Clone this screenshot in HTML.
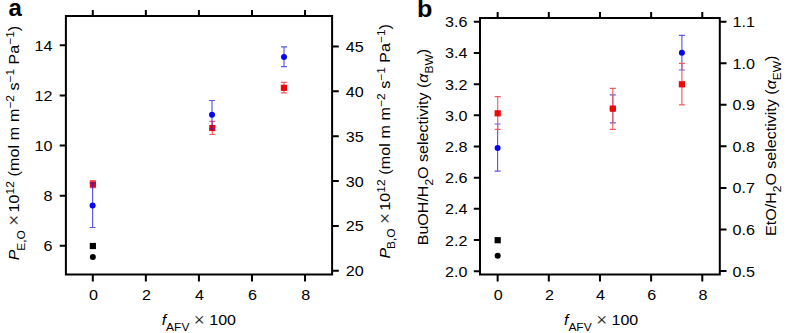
<!DOCTYPE html>
<html><head><meta charset="utf-8"><style>
html,body{margin:0;padding:0;background:#fff;width:786px;height:333px;overflow:hidden}
svg{display:block}
text{font-family:"Liberation Sans",sans-serif;fill:#000}
</style></head><body>
<svg width="786" height="333" viewBox="0 0 786 333">
<path d="M65.9,16.1H332.1V274.4H65.9Z" fill="none" stroke="#000" stroke-width="2" stroke-linejoin="miter" stroke-linecap="square"/>
<path d="M92.80,16.1v-6.2M92.80,274.4v7.0M145.86,16.1v-6.2M145.86,274.4v7.0M198.92,16.1v-6.2M198.92,274.4v7.0M251.98,16.1v-6.2M251.98,274.4v7.0M305.04,16.1v-6.2M305.04,274.4v7.0" stroke="#000" stroke-width="2" fill="none"/>
<path d="M65.9,45.30h-6.2M65.9,95.40h-6.2M65.9,145.50h-6.2M65.9,195.70h-6.2M65.9,245.80h-6.2" stroke="#000" stroke-width="2" fill="none"/>
<path d="M332.1,270.80h6.7M332.1,225.94h6.7M332.1,181.08h6.7M332.1,136.22h6.7M332.1,91.36h6.7M332.1,46.50h6.7" stroke="#000" stroke-width="2" fill="none"/>
<text transform="translate(93.40,300.20) scale(1.04,1)" font-size="15.5" text-anchor="middle" >0</text>
<text transform="translate(146.46,300.20) scale(1.04,1)" font-size="15.5" text-anchor="middle" >2</text>
<text transform="translate(199.52,300.20) scale(1.04,1)" font-size="15.5" text-anchor="middle" >4</text>
<text transform="translate(252.58,300.20) scale(1.04,1)" font-size="15.5" text-anchor="middle" >6</text>
<text transform="translate(305.64,300.20) scale(1.04,1)" font-size="15.5" text-anchor="middle" >8</text>
<text transform="translate(52.40,50.80) scale(1.04,1)" font-size="15.5" text-anchor="end" >14</text>
<text transform="translate(52.40,100.90) scale(1.04,1)" font-size="15.5" text-anchor="end" >12</text>
<text transform="translate(52.40,151.00) scale(1.04,1)" font-size="15.5" text-anchor="end" >10</text>
<text transform="translate(52.40,201.20) scale(1.04,1)" font-size="15.5" text-anchor="end" >8</text>
<text transform="translate(52.40,251.30) scale(1.04,1)" font-size="15.5" text-anchor="end" >6</text>
<text transform="translate(345.80,276.30) scale(1.04,1)" font-size="15.5" text-anchor="start" >20</text>
<text transform="translate(345.80,231.44) scale(1.04,1)" font-size="15.5" text-anchor="start" >25</text>
<text transform="translate(345.80,186.58) scale(1.04,1)" font-size="15.5" text-anchor="start" >30</text>
<text transform="translate(345.80,141.72) scale(1.04,1)" font-size="15.5" text-anchor="start" >35</text>
<text transform="translate(345.80,96.86) scale(1.04,1)" font-size="15.5" text-anchor="start" >40</text>
<text transform="translate(345.80,52.00) scale(1.04,1)" font-size="15.5" text-anchor="start" >45</text>
<path d="M480.0,18.1H719.8V274.4H480.0Z" fill="none" stroke="#000" stroke-width="2" stroke-linejoin="miter" stroke-linecap="square"/>
<path d="M497.65,18.1v-6.2M497.65,274.4v7.0M548.81,18.1v-6.2M548.81,274.4v7.0M599.97,18.1v-6.2M599.97,274.4v7.0M651.13,18.1v-6.2M651.13,274.4v7.0M702.29,18.1v-6.2M702.29,274.4v7.0" stroke="#000" stroke-width="2" fill="none"/>
<path d="M480.0,271.20h-6.2M480.0,240.02h-6.2M480.0,208.85h-6.2M480.0,177.67h-6.2M480.0,146.50h-6.2M480.0,115.32h-6.2M480.0,84.15h-6.2M480.0,52.97h-6.2M480.0,21.80h-6.2" stroke="#000" stroke-width="2" fill="none"/>
<path d="M719.8,271.00h6.7M719.8,229.45h6.7M719.8,187.90h6.7M719.8,146.35h6.7M719.8,104.80h6.7M719.8,63.25h6.7M719.8,21.70h6.7" stroke="#000" stroke-width="2" fill="none"/>
<text transform="translate(498.25,300.20) scale(1.04,1)" font-size="15.5" text-anchor="middle" >0</text>
<text transform="translate(549.41,300.20) scale(1.04,1)" font-size="15.5" text-anchor="middle" >2</text>
<text transform="translate(600.57,300.20) scale(1.04,1)" font-size="15.5" text-anchor="middle" >4</text>
<text transform="translate(651.73,300.20) scale(1.04,1)" font-size="15.5" text-anchor="middle" >6</text>
<text transform="translate(702.89,300.20) scale(1.04,1)" font-size="15.5" text-anchor="middle" >8</text>
<text transform="translate(467.40,276.70) scale(1.04,1)" font-size="15.5" text-anchor="end" >2.0</text>
<text transform="translate(467.40,245.52) scale(1.04,1)" font-size="15.5" text-anchor="end" >2.2</text>
<text transform="translate(467.40,214.35) scale(1.04,1)" font-size="15.5" text-anchor="end" >2.4</text>
<text transform="translate(467.40,183.17) scale(1.04,1)" font-size="15.5" text-anchor="end" >2.6</text>
<text transform="translate(467.40,152.00) scale(1.04,1)" font-size="15.5" text-anchor="end" >2.8</text>
<text transform="translate(467.40,120.82) scale(1.04,1)" font-size="15.5" text-anchor="end" >3.0</text>
<text transform="translate(467.40,89.65) scale(1.04,1)" font-size="15.5" text-anchor="end" >3.2</text>
<text transform="translate(467.40,58.47) scale(1.04,1)" font-size="15.5" text-anchor="end" >3.4</text>
<text transform="translate(467.40,27.30) scale(1.04,1)" font-size="15.5" text-anchor="end" >3.6</text>
<text transform="translate(732.60,276.50) scale(1.04,1)" font-size="15.5" text-anchor="start" >0.5</text>
<text transform="translate(732.60,234.95) scale(1.04,1)" font-size="15.5" text-anchor="start" >0.6</text>
<text transform="translate(732.60,193.40) scale(1.04,1)" font-size="15.5" text-anchor="start" >0.7</text>
<text transform="translate(732.60,151.85) scale(1.04,1)" font-size="15.5" text-anchor="start" >0.8</text>
<text transform="translate(732.60,110.30) scale(1.04,1)" font-size="15.5" text-anchor="start" >0.9</text>
<text transform="translate(732.60,68.75) scale(1.04,1)" font-size="15.5" text-anchor="start" >1.0</text>
<text transform="translate(732.60,27.20) scale(1.04,1)" font-size="15.5" text-anchor="start" >1.1</text>
<rect x="89.75" y="242.90" width="6.2" height="6.2" fill="#000"/>
<circle cx="92.85" cy="256.90" r="3.0" fill="#000"/>
<path d="M92.90,180.60V187.70M89.90,180.60h6.0M89.90,187.70h6.0" stroke="rgb(241,92,98)" stroke-width="1.15" fill="none"/>
<rect x="89.80" y="181.30" width="6.2" height="6.2" fill="#f20505"/>
<path d="M212.30,121.40V134.50M209.30,121.40h6.0M209.30,134.50h6.0" stroke="rgb(241,92,98)" stroke-width="1.15" fill="none"/>
<rect x="209.20" y="124.90" width="6.2" height="6.2" fill="#f20505"/>
<path d="M283.90,82.30V92.80M280.90,82.30h6.0M280.90,92.80h6.0" stroke="rgb(241,92,98)" stroke-width="1.15" fill="none"/>
<rect x="280.80" y="84.70" width="6.2" height="6.2" fill="#f20505"/>
<path d="M92.60,183.00V227.50M89.60,183.00h6.0M89.60,227.50h6.0" stroke="rgba(25,25,225,0.72)" stroke-width="1.15" fill="none"/>
<circle cx="92.60" cy="205.60" r="3.0" fill="#0505f2"/>
<path d="M212.00,100.50V129.00M209.00,100.50h6.0M209.00,129.00h6.0" stroke="rgba(25,25,225,0.72)" stroke-width="1.15" fill="none"/>
<circle cx="212.00" cy="114.70" r="3.0" fill="#0505f2"/>
<path d="M284.00,46.80V66.60M281.00,46.80h6.0M281.00,66.60h6.0" stroke="rgba(25,25,225,0.72)" stroke-width="1.15" fill="none"/>
<circle cx="284.00" cy="56.90" r="3.0" fill="#0505f2"/>
<rect x="494.60" y="237.10" width="6.2" height="6.2" fill="#000"/>
<circle cx="497.70" cy="255.80" r="3.0" fill="#000"/>
<path d="M497.60,124.00V171.10M494.60,124.00h6.0M494.60,171.10h6.0" stroke="rgba(25,25,225,0.72)" stroke-width="1.15" fill="none"/>
<circle cx="497.60" cy="147.90" r="3.0" fill="#0505f2"/>
<path d="M612.80,94.80V122.90M609.80,94.80h6.0M609.80,122.90h6.0" stroke="rgba(25,25,225,0.72)" stroke-width="1.15" fill="none"/>
<circle cx="612.80" cy="108.85" r="3.0" fill="#0505f2"/>
<path d="M681.90,35.40V70.00M678.90,35.40h6.0M678.90,70.00h6.0" stroke="rgba(25,25,225,0.72)" stroke-width="1.15" fill="none"/>
<circle cx="681.90" cy="52.70" r="3.0" fill="#0505f2"/>
<path d="M497.70,96.60V129.40M494.70,96.60h6.0M494.70,129.40h6.0" stroke="rgb(241,92,98)" stroke-width="1.15" fill="none"/>
<rect x="494.60" y="110.20" width="6.2" height="6.2" fill="#f20505"/>
<path d="M612.80,88.30V129.40M609.80,88.30h6.0M609.80,129.40h6.0" stroke="rgb(241,92,98)" stroke-width="1.15" fill="none"/>
<rect x="609.70" y="105.50" width="6.2" height="6.2" fill="#f20505"/>
<path d="M681.90,63.30V104.90M678.90,63.30h6.0M678.90,104.90h6.0" stroke="rgb(241,92,98)" stroke-width="1.15" fill="none"/>
<rect x="678.80" y="81.20" width="6.2" height="6.2" fill="#f20505"/>
<text x="8.6" y="16.0" font-size="24" font-weight="bold" text-anchor="start">a</text>
<text transform="translate(417.0,17.2) scale(1.05,1)" font-size="24" font-weight="bold" text-anchor="start">b</text>
<text transform="translate(198.80,325.20) scale(1.07,1)" font-size="15" text-anchor="middle" ><tspan font-style="italic">f</tspan><tspan font-size="11.2" dy="5.5">AFV</tspan><tspan dy="-5.5"> </tspan><tspan font-size="17.5" dy="1.2" stroke="#fff" stroke-width="0.3">×</tspan><tspan dy="-1.2"> 100</tspan></text>
<text transform="translate(601.10,325.20) scale(1.07,1)" font-size="15" text-anchor="middle" ><tspan font-style="italic">f</tspan><tspan font-size="11.2" dy="5.5">AFV</tspan><tspan dy="-5.5"> </tspan><tspan font-size="17.5" dy="1.2" stroke="#fff" stroke-width="0.3">×</tspan><tspan dy="-1.2"> 100</tspan></text>
<text transform="translate(19.00,143.00) rotate(-90) scale(1.07,1)" font-size="15" text-anchor="middle"><tspan font-style="italic">P</tspan><tspan font-size="11.2" dy="5.5" dx="-1.2">E,O</tspan><tspan dy="-5.5"> </tspan><tspan font-size="17.5" dy="1.2" stroke="#fff" stroke-width="0.3">×</tspan><tspan dy="-1.2" dx="-2.2" letter-spacing="0.13"> 10</tspan><tspan font-size="11.2" dy="-5.0">12</tspan><tspan dy="5.0" letter-spacing="0.13"> (mol m m</tspan><tspan font-size="11.2" dy="-5.0">−2</tspan><tspan dy="5.0"> s</tspan><tspan font-size="11.2" dy="-5.0">−1</tspan><tspan dy="5.0"> Pa</tspan><tspan font-size="11.2" dy="-5.0">−1</tspan><tspan dy="5.0">)</tspan></text>
<text transform="translate(389.90,141.30) rotate(-90) scale(1.07,1)" font-size="15" text-anchor="middle"><tspan font-style="italic">P</tspan><tspan font-size="11.2" dy="5.5" dx="-1.2">B,O</tspan><tspan dy="-5.5"> </tspan><tspan font-size="17.5" dy="1.2" stroke="#fff" stroke-width="0.3">×</tspan><tspan dy="-1.2" dx="-2.2" letter-spacing="0.13"> 10</tspan><tspan font-size="11.2" dy="-5.0">12</tspan><tspan dy="5.0" letter-spacing="0.13"> (mol m m</tspan><tspan font-size="11.2" dy="-5.0">−2</tspan><tspan dy="5.0"> s</tspan><tspan font-size="11.2" dy="-5.0">−1</tspan><tspan dy="5.0"> Pa</tspan><tspan font-size="11.2" dy="-5.0">−1</tspan><tspan dy="5.0">)</tspan></text>
<text transform="translate(427.80,147.10) rotate(-90) scale(1.07,1)" font-size="15" text-anchor="middle">BuOH/H<tspan font-size="11.2" dy="5.5">2</tspan><tspan dy="-5.5">O selectivity (</tspan><tspan font-style="italic">α</tspan><tspan font-size="11.2" dy="5.5">BW</tspan><tspan dy="-5.5">)</tspan></text>
<text transform="translate(775.90,145.75) rotate(-90) scale(1.07,1)" font-size="15" text-anchor="middle">EtO/H<tspan font-size="11.2" dy="5.5">2</tspan><tspan dy="-5.5">O selectivity (</tspan><tspan font-style="italic">α</tspan><tspan font-size="11.2" dy="5.5">EW</tspan><tspan dy="-5.5">)</tspan></text>
</svg>
</body></html>
